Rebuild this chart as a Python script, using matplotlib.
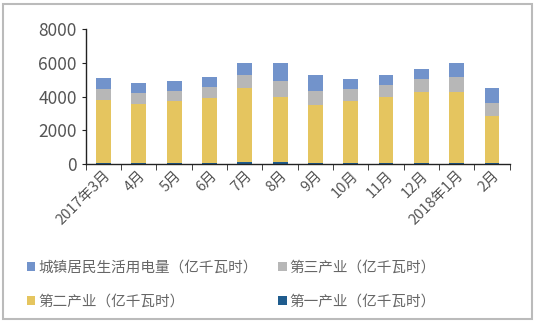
import matplotlib.pyplot as plt
import numpy as np
from matplotlib.patches import Rectangle

plt.rcParams['font.family'] = ['Noto Sans CJK SC', 'DejaVu Sans']

# 月度分行业用电量（亿千瓦时）
months = ['2017年3月', '4月', '5月', '6月', '7月', '8月', '9月',
          '10月', '11月', '12月', '2018年1月', '2月']
primary = [70, 70, 70, 80, 110, 110, 80, 70, 60, 60, 60, 50]
secondary = [3730, 3490, 3660, 3850, 4370, 3880, 3400, 3640, 3930, 4210, 4210, 2790]
tertiary = [650, 635, 610, 650, 810, 950, 830, 710, 670, 750, 870, 790]
residential = [650, 590, 590, 595, 710, 1030, 950, 630, 590, 630, 830, 870]

series = [
    ('城镇居民生活用电量（亿千瓦时）', residential, '#7293cb'),
    ('第三产业（亿千瓦时）', tertiary, '#b7b7b7'),
    ('第二产业（亿千瓦时）', secondary, '#e5c55f'),
    ('第一产业（亿千瓦时）', primary, '#1f5c8e'),
]

fig = plt.figure(figsize=(5.36, 3.25), dpi=100)
ax = fig.add_axes([0.160, 0.495, 0.791, 0.416])

x = np.arange(len(months))
bottom = np.zeros(len(months))
handles = {}
# stack from the bottom up: primary, secondary, tertiary, residential
for name, vals, color in series[::-1]:
    vals = np.array(vals, dtype=float)
    handles[name] = ax.bar(x, vals, width=0.42, bottom=bottom, color=color, label=name)
    bottom += vals

ax.set_xlim(-0.5, len(months) - 0.5)
ax.set_ylim(0, 8000)
ax.set_yticks([0, 2000, 4000, 6000, 8000])
ax.tick_params(axis='y', labelsize=12.5, color='#222222', length=3, labelcolor='#555555')
ax.set_xticks(x)
ax.set_xticklabels(months, rotation=45, ha='right', rotation_mode='anchor',
                   fontsize=10.5, color='#555555')
ax.tick_params(axis='x', length=0, pad=3)
# tick marks between categories
ax.set_xticks(np.arange(-0.5, len(months)), minor=True)
ax.tick_params(axis='x', which='minor', length=4, color='#222222')

for side in ['top', 'right']:
    ax.spines[side].set_visible(False)
for side in ['left', 'bottom']:
    ax.spines[side].set_color('#222222')
    ax.spines[side].set_linewidth(1.0)

# legend fills column-wise, so interleave to get two rows
names = [s[0] for s in series]
order = [names[0], names[2], names[1], names[3]]
fig.legend([handles[n] for n in order], order, loc='lower left',
           bbox_to_anchor=(0.025, 0.01), ncol=2, frameon=False,
           fontsize=10.5, labelcolor='#666666', handlelength=0.6, handleheight=0.6,
           handletextpad=0.2, columnspacing=1.4, labelspacing=1.35)

# light grey frame around the whole figure
fig.patches.append(Rectangle((0.006, 0.018), 0.986, 0.97, transform=fig.transFigure,
                             fill=False, edgecolor='#bbbbbb', linewidth=1.5))

fig.savefig('out.png', dpi=100)
